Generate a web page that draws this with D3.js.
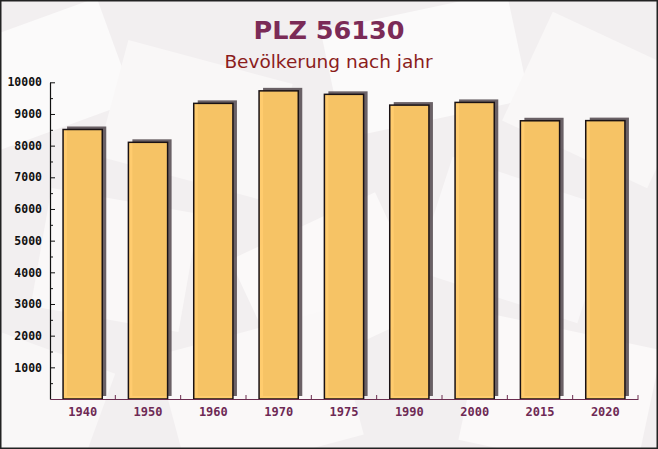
<!DOCTYPE html>
<html>
<head>
<meta charset="utf-8">
<script src="https://cdn.jsdelivr.net/npm/d3@7"></script>
<style>
  html, body { margin: 0; padding: 0; background: #fff; }
  svg { display: block; }
</style>
</head>
<body>
<script>
const years = ["1940", "1950", "1960", "1970", "1975", "1990", "2000", "2015", "2020"];
const population = [8510, 8105, 9335, 9730, 9620, 9280, 9365, 8785, 8790];
const yTicks = [1000, 2000, 3000, 4000, 5000, 6000, 7000, 8000, 9000, 10000];
const titleText = "PLZ 56130";
const subtitleText = "Bevölkerung nach jahr";

const W = 658, H = 449;
const svg = d3.select("body").append("svg").attr("width", W).attr("height", H);

// background
svg.append("rect").attr("width", W).attr("height", H).attr("fill", "#f2eff0");
const deco = svg.append("g");
const shapes = [
  {x: -30, y: 20, w: 150, h: 110, r: -20, c: "#fbfafa"},
  {x: 110, y: 60, w: 170, h: 120, r: 15, c: "#f9f7f7"},
  {x: 330, y: 10, w: 190, h: 110, r: -12, c: "#fbfafa"},
  {x: 520, y: 40, w: 160, h: 120, r: 25, c: "#f9f7f7"},
  {x: 40, y: 200, w: 150, h: 120, r: 10, c: "#faf8f8"},
  {x: 250, y: 220, w: 160, h: 130, r: -25, c: "#fbf9f9"},
  {x: 430, y: 180, w: 170, h: 120, r: 18, c: "#f9f7f8"},
  {x: 170, y: 330, w: 180, h: 130, r: -15, c: "#faf8f8"},
  {x: 470, y: 330, w: 180, h: 130, r: 12, c: "#fbf9f9"},
  {x: -20, y: 350, w: 120, h: 110, r: 20, c: "#f9f7f7"}
];
deco.selectAll("rect").data(shapes).join("rect")
  .attr("x", d => d.x).attr("y", d => d.y)
  .attr("width", d => d.w).attr("height", d => d.h)
  .attr("fill", d => d.c)
  .attr("transform", d => `rotate(${d.r},${d.x + d.w / 2},${d.y + d.h / 2})`);

// titles
svg.append("text").attr("x", 329).attr("y", 39).attr("text-anchor", "middle")
  .attr("font-family", "DejaVu Sans").attr("font-weight", "bold").attr("font-size", 25.5)
  .attr("fill", "#7b2b57").text(titleText);
svg.append("text").attr("x", 328.5).attr("y", 68).attr("text-anchor", "middle")
  .attr("font-family", "DejaVu Sans").attr("font-size", 18.5)
  .attr("fill", "#8b1c1c").text(subtitleText);

// scales
const x = d3.scaleBand().domain(years).range([50, 638]).paddingInner(0.4).paddingOuter(0.2);
const y = d3.scaleLinear().domain([0, 10000]).range([399, 82.3]);

// shadows
const sdx = 4, sdy = -3;
svg.append("g").selectAll("rect").data(years).join("rect")
  .attr("x", d => x(d) + sdx)
  .attr("y", (d, i) => y(population[i]) + sdy)
  .attr("width", x.bandwidth())
  .attr("height", (d, i) => y(0) - y(population[i]))
  .attr("fill", "#51474c").attr("fill-opacity", 0.85);

// bars
svg.append("g").selectAll("rect").data(years).join("rect")
  .attr("x", d => x(d))
  .attr("y", (d, i) => y(population[i]))
  .attr("width", x.bandwidth())
  .attr("height", (d, i) => y(0) - y(population[i]))
  .attr("fill", "#ffc965").attr("fill-opacity", 0.94)
  .attr("stroke", "#1a1214").attr("stroke-width", 1.5);

// y axis
const yAxis = svg.append("g").attr("transform", "translate(50,0)")
  .call(d3.axisLeft(y).tickValues(yTicks).tickSizeInner(-5).tickSizeOuter(0).tickPadding(8).tickFormat(d3.format("d")));
yAxis.select(".domain").attr("stroke", "#111").attr("stroke-width", 1.2);
yAxis.selectAll(".tick line").attr("stroke", "#111");
yAxis.selectAll("text").attr("font-family", "DejaVu Sans Mono").attr("font-weight", "bold")
  .attr("font-size", 11.5).attr("fill", "#111");
const minor = d3.range(500, 10000, 1000);
svg.append("g").attr("transform", "translate(50,0)")
  .call(d3.axisLeft(y).tickValues(minor).tickSizeInner(-3).tickSizeOuter(0).tickFormat(""))
  .call(g => g.select(".domain").remove())
  .selectAll(".tick line").attr("stroke", "#111");

// x axis
const xAxis = svg.append("g").attr("transform", "translate(0,399)")
  .call(d3.axisBottom(x).tickSize(0).tickPadding(8));
xAxis.select(".domain").attr("stroke", "#6a2c4f").attr("stroke-width", 1.2);
xAxis.selectAll("text").attr("font-family", "DejaVu Sans Mono").attr("font-weight", "bold")
  .attr("font-size", 12).attr("fill", "#6e2a55");
const boundaries = years.map(d => x(d) + x.bandwidth() + x.step() * 0.2);
xAxis.append("g").selectAll("line").data(boundaries).join("line")
  .attr("x1", d => d).attr("x2", d => d).attr("y1", 0).attr("y2", -4)
  .attr("stroke", "#6a2c4f");

// border
svg.append("rect").attr("x", 0.75).attr("y", 0.75).attr("width", W - 1.5).attr("height", H - 1.5)
  .attr("fill", "none").attr("stroke", "#222").attr("stroke-width", 1.5);
</script>
</body>
</html>
